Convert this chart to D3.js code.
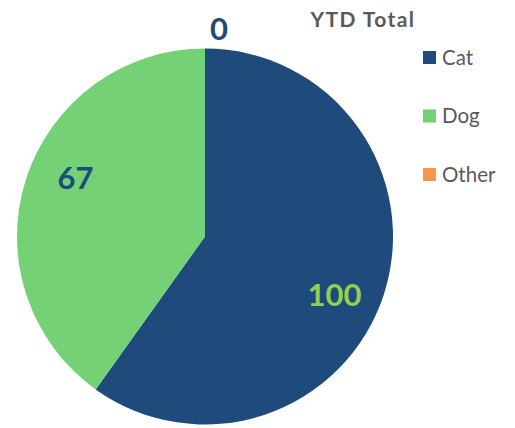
<!DOCTYPE html>
<html>
<head>
<meta charset="utf-8">
<script src="https://cdn.jsdelivr.net/npm/d3@7"></script>
<style>
  html, body { margin: 0; padding: 0; background: #fff; }
  svg text { font-family: Lato, "Open Sans", sans-serif; }
</style>
</head>
<body>
<div id="chart"></div>
<script>
const categories = ["Cat", "Dog", "Other"];
const values = [100, 67, 0];
const colors = ["#1f4a7c", "#74d175", "#f79646"];
const labelColors = ["#92d050", "#1f4a7c", "#1f4a7c"];

const width = 515;
const height = 428;
const cx = 205;
const cy = 236.5;
const radius = 188;

const svg = d3.select("#chart")
  .append("svg")
  .attr("width", width)
  .attr("height", height);

const data = categories.map((c, i) => ({ name: c, value: values[i] }));

const pie = d3.pie().sort(null).value((d) => d.value);
const arc = d3.arc().innerRadius(0).outerRadius(radius);
const arcs = pie(data);

const g = svg.append("g").attr("transform", `translate(${cx},${cy})`);

g.selectAll("path")
  .data(arcs)
  .join("path")
  .attr("d", arc)
  .attr("fill", (d, i) => colors[i]);

// data labels sit a little clockwise of the slice middle (like the excel best fit)
const labelRadius = 142;
const labelShift = 6.5 * Math.PI / 180;
function labelPos(d) {
  if (d.value === 0) {
    // empty slice: label goes outside, just above the rim
    return [14, -(radius + 20)];
  }
  const a = (d.startAngle + d.endAngle) / 2 + labelShift;
  return [labelRadius * Math.sin(a), -labelRadius * Math.cos(a)];
}

g.selectAll(".label")
  .data(arcs)
  .join("text")
  .attr("class", "label")
  .attr("transform", (d) => `translate(${labelPos(d)})`)
  .attr("text-anchor", "middle")
  .attr("dy", "0.36em")
  .attr("font-size", 31)
  .attr("font-weight", 700)
  .attr("fill", (d, i) => labelColors[i])
  .text((d) => d.value);

// legend
svg.append("text")
  .attr("x", 363)
  .attr("y", 27)
  .attr("text-anchor", "middle")
  .attr("font-size", 21)
  .attr("font-weight", 700)
  .attr("letter-spacing", 1.4)
  .attr("fill", "#595959")
  .text("YTD Total");

const legendY = d3.scalePoint().domain(categories).range([57.5, 174.5]);

const legend = svg.append("g")
  .selectAll("g")
  .data(categories)
  .join("g")
  .attr("transform", (d) => `translate(423,${legendY(d)})`);

legend.append("rect")
  .attr("x", 0)
  .attr("y", -6.5)
  .attr("width", 13)
  .attr("height", 13)
  .attr("fill", (d, i) => colors[i]);

legend.append("text")
  .attr("x", 19)
  .attr("y", 0)
  .attr("dy", "0.36em")
  .attr("font-size", 20.5)
  .attr("fill", "#595959")
  .text((d) => d);
</script>
</body>
</html>
